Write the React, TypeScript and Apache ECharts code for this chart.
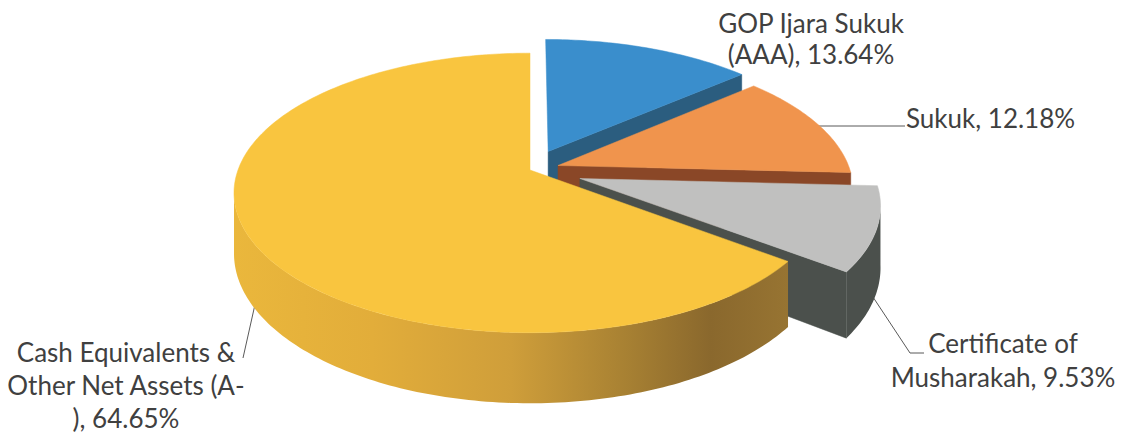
import React, { useEffect, useRef } from 'react';
import * as echarts from 'echarts';

// ---- data ----
const CATEGORIES = [
  'GOP Ijara Sukuk (AAA)',
  'Sukuk',
  'Certificate of Musharakah',
  'Cash Equivalents & Other Net Assets (A-)',
];
const VALUES = [13.64, 12.18, 9.53, 64.65];
// names as wrapped in the original labels
const LABEL_NAMES = [
  'GOP Ijara Sukuk\n(AAA)',
  'Sukuk',
  'Certificate of\nMusharakah',
  'Cash Equivalents &\nOther Net Assets (A-\n)',
];

// ---- styling / layout ----
const EXPLODE = [0.153, 0.102, 0.18, 0];
const TOP_COLORS = ['#3A8ECC', '#F0944D', '#C0C0BF', '#F9C53F'];
const SIDE_COLORS = ['#2B5D7F', '#8A4727', '#4B504C', '#E0AC3A'];
const CX = 530;
const CY = 170;
const RX = 292;
const RY = 136;
const PERSP = 0.164;
const DEPTH = 59;
const VIS_A = (100 * Math.PI) / 180;
const VIS_B = (260 * Math.PI) / 180;

const LABEL_POS = [
  { x: 811, y: 7, align: 'center', lh: 31 },
  { x: 906, y: 102, align: 'left', lh: 31 },
  { x: 1003, y: 326, align: 'center', lh: 34 },
  { x: 126, y: 335, align: 'center', lh: 33 },
];
const LEADERS = [
  null,
  [[817, 126], [905, 126]],
  [[869, 291], [910, 353], [924, 353]],
  [[256, 300], [243, 358]],
];

const TOTAL = VALUES.reduce((a, b) => a + b, 0);

function proj(X: number, Z: number, bottom: boolean): number[] {
  const w = 1 + PERSP * Z;
  return [CX + (RX * X) / w, CY - (RY * Z) / w + (bottom ? DEPTH / w : 0)];
}

function geom(i: number, v: number) {
  let acc = 0;
  for (let j = 0; j < i; j++) acc += VALUES[j];
  const t1 = (acc / TOTAL) * Math.PI * 2;
  const t2 = ((acc + v) / TOTAL) * Math.PI * 2;
  const m = (t1 + t2) / 2;
  const ex = EXPLODE[i] * Math.sin(m);
  const ez = EXPLODE[i] * Math.cos(m);
  return { t1, t2, ex, ez };
}

function rim(t: number, ex: number, ez: number, bottom: boolean) {
  return proj(Math.sin(t) + ex, Math.cos(t) + ez, bottom);
}

function arcPts(a: number, b: number, ex: number, ez: number, bottom: boolean) {
  const pts: number[][] = [];
  const n = Math.max(2, Math.ceil(((b - a) * 180) / Math.PI));
  for (let k = 0; k <= n; k++) {
    const t = a + ((b - a) * k) / n;
    pts.push(rim(t, ex, ez, bottom));
  }
  return pts;
}

function sideFill(i: number) {
  if (i === 3) {
    return new echarts.graphic.LinearGradient(0, 0, 1, 0, [
      { offset: 0, color: '#EAB73C' },
      { offset: 0.25, color: '#E2AD3A' },
      { offset: 0.5, color: '#CF9E3A' },
      { offset: 0.7, color: '#A98233' },
      { offset: 0.86, color: '#8A682D' },
      { offset: 1, color: '#977432' },
    ]);
  }
  return SIDE_COLORS[i];
}

function renderWalls(params: any, api: any) {
  const i = params.dataIndex;
  const v = api.value(0);
  const { t1, t2, ex, ez } = geom(i, v);
  const children: any[] = [];
  const fill = sideFill(i);
  const faces: number[] = [];
  if (Math.sin(t2) > 0.01) faces.push(t2);
  if (Math.sin(t1) < -0.01) faces.push(t1);
  faces.forEach((t) => {
    const pts = [
      proj(ex, ez, false),
      rim(t, ex, ez, false),
      rim(t, ex, ez, true),
      proj(ex, ez, true),
    ];
    children.push({
      type: 'polygon',
      shape: { points: pts },
      style: { fill: SIDE_COLORS[i], stroke: SIDE_COLORS[i], lineWidth: 0.5 },
    });
  });
  const a = Math.max(t1, VIS_A);
  const b = Math.min(t2, VIS_B);
  if (a < b) {
    const top = arcPts(a, b, ex, ez, false);
    const bot = arcPts(a, b, ex, ez, true).reverse();
    children.push({
      type: 'polygon',
      shape: { points: top.concat(bot) },
      style: { fill, stroke: null },
    });
  }
  return { type: 'group', children };
}

function renderTops(params: any, api: any) {
  const i = params.dataIndex;
  const v = api.value(0);
  const { t1, t2, ex, ez } = geom(i, v);
  const pts = [proj(ex, ez, false)].concat(arcPts(t1, t2, ex, ez, false));
  return {
    type: 'polygon',
    shape: { points: pts },
    style: { fill: TOP_COLORS[i], stroke: TOP_COLORS[i], lineWidth: 0.5 },
  };
}

export default function App() {
  const ref = useRef<HTMLDivElement>(null);
  useEffect(() => {
    document.body.style.margin = '0';
    if (!ref.current) return;
    const chart = echarts.init(ref.current, undefined, { renderer: 'svg' });
    const graphics: any[] = [];
    VALUES.forEach((v, i) => {
      const p = LABEL_POS[i];
      graphics.push({
        type: 'text',
        x: p.x,
        y: p.y,
        silent: true,
        style: {
          text: `${LABEL_NAMES[i]}, ${v.toFixed(2)}%`,
          font: '26px Lato',
          fill: '#404040',
          align: p.align,
          verticalAlign: 'top',
          lineHeight: p.lh,
        },
      });
      const l = LEADERS[i];
      if (l) {
        graphics.push({
          type: 'polyline',
          silent: true,
          shape: { points: l },
          style: { stroke: '#595959', lineWidth: 1, fill: null },
        });
      }
    });
    chart.setOption({
      animation: false,
      backgroundColor: '#ffffff',
      series: [
        {
          type: 'custom',
          name: 'walls',
          coordinateSystem: 'none',
          renderItem: renderWalls,
          data: VALUES.map((v, i) => ({ name: CATEGORIES[i], value: [v] })),
          z: 1,
          silent: true,
        },
        {
          type: 'custom',
          name: 'tops',
          coordinateSystem: 'none',
          renderItem: renderTops,
          data: VALUES.map((v, i) => ({ name: CATEGORIES[i], value: [v] })),
          z: 2,
          silent: true,
        },
      ],
      graphic: graphics,
    });
    return () => chart.dispose();
  }, []);
  return (
    <div
      ref={ref}
      style={{ position: 'absolute', left: 0, top: 0, width: 1128, height: 436 }}
    />
  );
}
